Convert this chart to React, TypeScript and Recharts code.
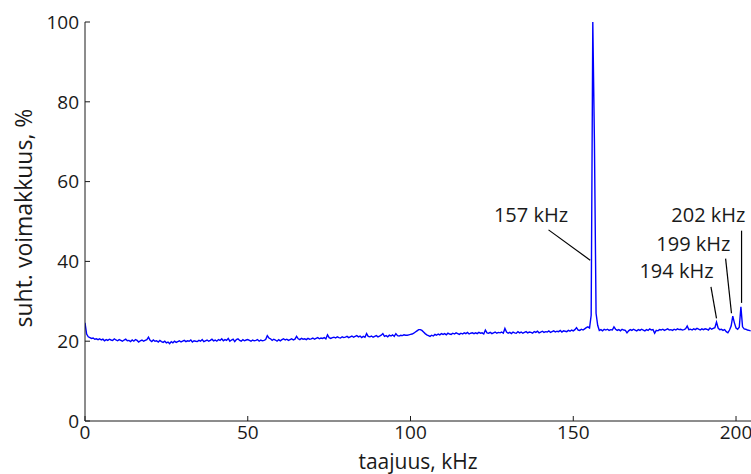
import { LineChart, Line, XAxis, YAxis, ReferenceLine, ReferenceDot } from "recharts";

const freqStep = 0.5;
const power = [
  // 0 - 9.5
  24.6, 21.8, 21.1, 20.9, 20.7, 20.8, 20.5, 20.6, 20.4, 20.6, 20.3, 20.5, 20.1, 20.4, 20.2, 20.5, 20.3, 20.2, 20.6, 20.3,
  // 10 - 19.5
  20.1, 20.4, 20.2, 20.0, 20.3, 20.5, 20.1, 20.2, 19.9, 20.3, 20.0, 20.4, 20.2, 19.8, 20.1, 20.3, 20.0, 20.2, 20.4, 21.0,
  // 20 - 29.5
  20.2, 19.9, 20.3, 20.0, 20.1, 19.8, 20.2, 19.9, 19.7, 20.0, 19.6, 19.8, 19.4, 19.9, 19.6, 20.0, 19.7, 19.9, 20.1, 19.8,
  // 30 - 39.5
  20.0, 20.2, 19.9, 20.1, 20.0, 20.3, 19.8, 20.1, 20.0, 19.9, 20.2, 20.0, 20.4, 19.9, 20.1, 20.3, 20.0, 20.2, 20.5, 20.1,
  // 40 - 49.5
  20.3, 20.0, 20.4, 20.2, 20.6, 20.1, 20.4, 20.2, 20.7, 20.0, 20.3, 20.5, 19.9, 20.4, 20.6, 20.2, 20.0, 20.4, 20.1, 20.3,
  // 50 - 59.5
  20.4, 20.2, 20.0, 20.3, 20.1, 20.2, 20.4, 20.0, 20.3, 20.1, 20.2, 20.4, 21.4, 20.8, 20.6, 20.2, 20.5, 20.3, 20.0, 20.4,
  // 60 - 69.5
  20.1, 20.4, 20.6, 20.3, 20.5, 20.2, 20.4, 20.6, 20.3, 20.5, 21.2, 20.6, 20.4, 20.7, 20.5, 20.6, 20.4, 20.7, 20.5, 20.6,
  // 70 - 79.5
  20.8, 20.5, 20.7, 20.9, 20.6, 20.8, 20.7, 20.9, 20.6, 21.6, 20.9, 20.7, 20.9, 21.0, 20.8, 21.1, 20.9, 20.8, 21.1, 20.9,
  // 80 - 89.5
  21.0, 21.2, 20.9, 21.1, 21.3, 21.0, 21.2, 21.4, 21.1, 21.3, 20.9, 21.2, 21.0, 21.9, 21.2, 21.1, 21.3, 21.0, 21.2, 21.4,
  // 90 - 99.5
  21.1, 21.3, 21.5, 21.9, 21.2, 21.4, 21.1, 21.5, 21.3, 21.6, 21.2, 21.9, 21.4, 21.3, 21.5, 21.4, 21.6, 21.5, 21.5, 21.6,
  // 100 - 109.5
  21.7, 21.8, 22.0, 22.3, 22.6, 22.9, 22.9, 22.7, 22.3, 21.9, 21.6, 21.4, 21.2, 21.5, 21.3, 21.7, 21.5, 21.8, 21.6, 21.9,
  // 110 - 119.5
  21.7, 21.9, 21.6, 22.0, 21.8, 21.7, 22.0, 21.8, 22.1, 21.9, 21.7, 22.0, 21.8, 22.1, 21.9, 22.2, 21.8, 22.0, 22.1, 21.9,
  // 120 - 129.5
  22.1, 21.9, 22.2, 22.0, 22.1, 21.8, 22.8, 22.1, 22.0, 22.2, 21.9, 22.1, 22.3, 22.0, 22.2, 22.1, 22.3, 22.0, 23.2, 22.3,
  // 130 - 139.5
  22.0, 22.2, 21.9, 22.3, 22.1, 22.0, 22.4, 22.1, 22.3, 22.0, 22.2, 22.4, 22.1, 22.3, 22.2, 22.0, 22.4, 22.2, 22.5, 22.1,
  // 140 - 149.5
  22.3, 22.5, 22.2, 22.4, 22.3, 22.6, 22.2, 22.4, 22.6, 22.3, 22.5, 22.4, 22.7, 22.3, 22.6, 22.5, 22.4, 22.7, 22.5, 22.8,
  // 150 - 159.5 (main peak ~156 kHz)
  22.6, 22.9, 23.4, 22.8, 22.7, 23.0, 22.8, 23.1, 23.4, 23.6, 23.3, 26.5, 100, 70, 27.0, 24.0, 22.7, 22.9, 22.6, 23.0,
  // 160 - 169.5
  22.8, 23.0, 22.7, 22.9, 22.8, 23.6, 23.0, 22.7, 22.9, 22.6, 23.0, 22.8, 22.7, 22.1, 22.6, 22.9, 22.7, 23.0, 22.8, 22.6,
  // 170 - 179.5
  22.9, 22.7, 23.0, 22.8, 22.6, 22.9, 22.7, 23.1, 22.8, 22.9, 22.0, 22.7, 22.6, 22.9, 22.8, 23.0, 22.7, 22.9, 23.1, 22.8,
  // 180 - 189.5
  22.9, 22.7, 23.0, 22.8, 23.1, 22.9, 23.0, 22.8, 22.9, 23.1, 23.8, 22.9, 23.0, 22.8, 23.1, 22.9, 23.2, 23.0, 22.8, 23.1,
  // 190 - 199.5
  22.9, 23.1, 23.0, 22.8, 23.3, 23.0, 23.2, 23.4, 24.8, 23.3, 22.9, 23.0, 22.7, 22.9, 22.4, 22.1, 22.8, 23.8, 26.3, 24.6,
  // 200 - 204.5
  23.3, 23.0, 23.5, 28.6, 23.6, 23.1, 23.0, 22.8, 22.7, 22.6,
];

const xTicks = [0, 50, 100, 150, 200];
const yTicks = [0, 20, 40, 60, 80, 100];

// peak annotations: text centre and pointer line (kHz, %)
const peakLabels = ["157 kHz", "194 kHz", "199 kHz", "202 kHz"];
const labelX = [137.0, 181.7, 186.9, 191.5];
const labelY = [51.6, 37.5, 44.4, 51.6];
const lineFrom = [[142.4, 47.9], [192.3, 33.6], [196.8, 40.7], [201.7, 47.7]];
const lineTo = [[155.2, 40.3], [194.0, 25.7], [198.6, 27.0], [201.7, 29.6]];

const data = power.map((p, i) => ({ f: i * freqStep, p }));

const font = "'Open Sans', sans-serif";
const ink = "#1a1a1a";

export default function App() {
  return (
    <div style={{ position: "absolute", left: 0, top: 0, width: 751, height: 474, overflow: "hidden", background: "#fff" }}>
      <LineChart width={751} height={474} data={data} margin={{ top: 22, right: 0, bottom: 0, left: 0 }}>
        <XAxis
          dataKey="f"
          type="number"
          domain={[0, 204.6]}
          ticks={xTicks}
          allowDataOverflow
          height={53}
          stroke={ink}
          tickSize={-5}
          tickMargin={10}
          tick={{ fontSize: 19, fill: ink, fontFamily: font }}
          label={{ value: "taajuus, kHz", position: "insideBottom", offset: 5, fontSize: 21, fill: ink, fontFamily: font }}
        />
        <XAxis
          xAxisId="top"
          dataKey="f"
          type="number"
          orientation="top"
          domain={[0, 204.6]}
          ticks={xTicks}
          allowDataOverflow
          height={0}
          stroke={ink}
          tickSize={-5}
          tickFormatter={() => ""}
        />
        <YAxis
          domain={[0, 100]}
          ticks={yTicks}
          width={85}
          stroke={ink}
          tickSize={-5}
          tickMargin={11}
          tick={{ fontSize: 19, fill: ink, fontFamily: font }}
          label={{ value: "suht. voimakkuus, %", angle: -90, position: "insideLeft", offset: 24, dy: 106, fontSize: 23, fill: ink, fontFamily: font }}
        />
        <Line dataKey="p" type="linear" stroke="#0000ff" strokeWidth={1.4} dot={false} isAnimationActive={false} />
        {peakLabels.map((name, i) => (
          <ReferenceLine
            key={"l" + name}
            segment={[
              { x: lineFrom[i][0], y: lineFrom[i][1] },
              { x: lineTo[i][0], y: lineTo[i][1] },
            ]}
            stroke="#000"
            strokeWidth={1.2}
          />
        ))}
        {peakLabels.map((name, i) => (
          <ReferenceDot
            key={"t" + name}
            x={labelX[i]}
            y={labelY[i]}
            r={0}
            stroke="none"
            fill="none"
            label={{ value: name, position: "center", fontSize: 20, fill: ink, fontFamily: font }}
          />
        ))}
      </LineChart>
    </div>
  );
}
